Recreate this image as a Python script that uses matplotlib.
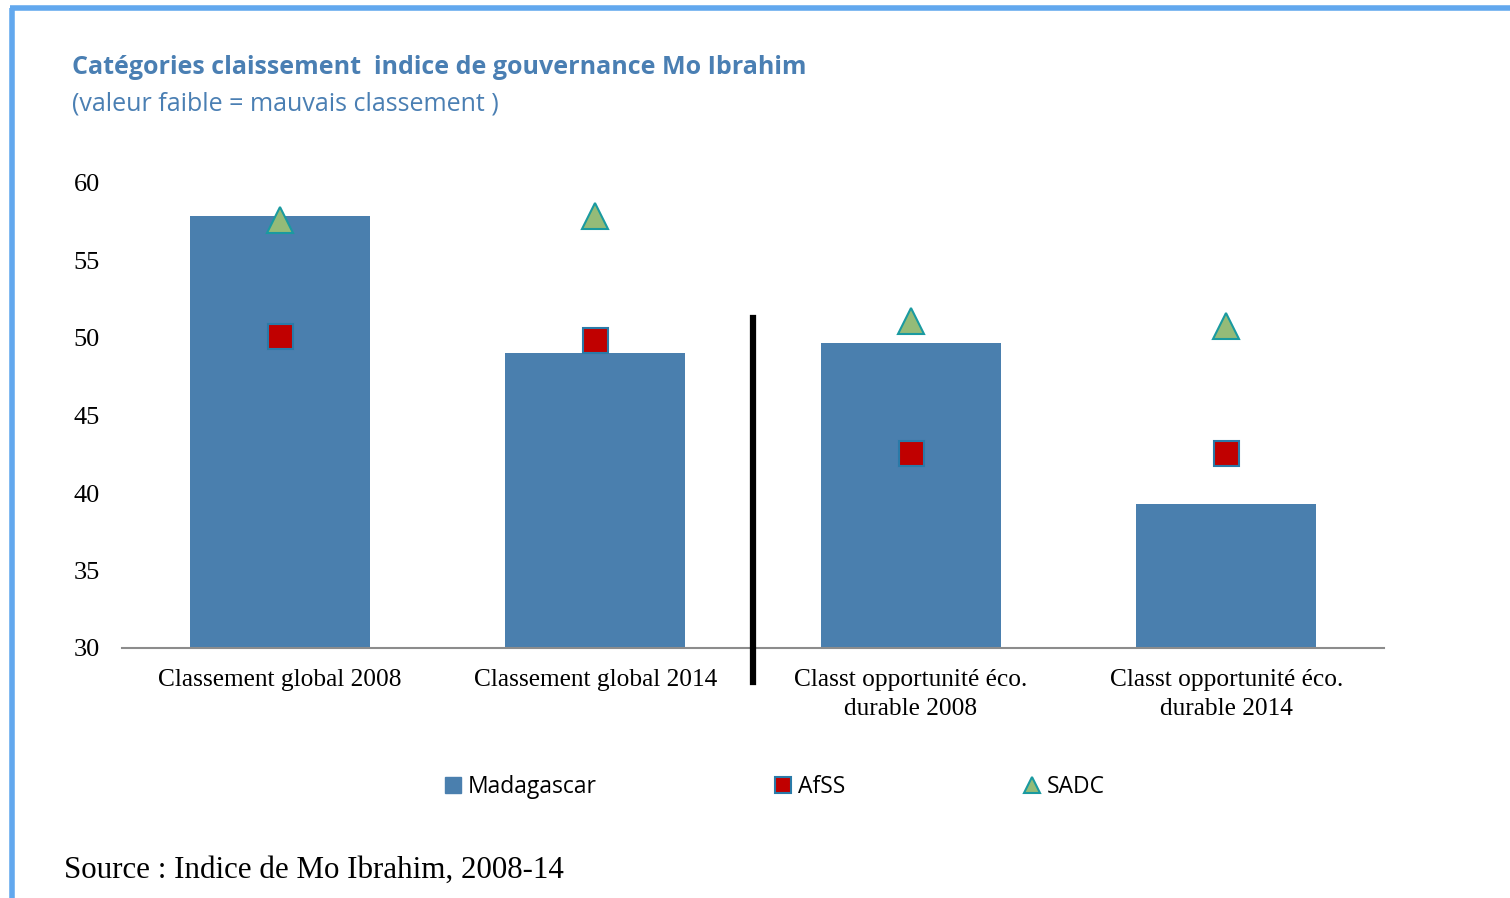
import numpy as np
import matplotlib
matplotlib.use("Agg")
import matplotlib.pyplot as plt
from matplotlib.lines import Line2D
from matplotlib.patches import Patch

# Data
categories = ["Classement global 2008", "Classement global 2014",
              "Classt opportunité éco.\ndurable 2008", "Classt opportunité éco.\ndurable 2014"]
madagascar = [57.9, 49.0, 49.7, 39.3]
afss = [50.1, 49.9, 42.6, 42.6]
sadc = [57.6, 57.9, 51.1, 50.8]
y_ticks = [30, 35, 40, 45, 50, 55, 60]

bar_color = "#4a7fae"
sq_color = "#c00000"
sq_edge = "#2a7aa8"
tri_color = "#94bb78"
tri_edge = "#1a9aa0"
title_color = "#4a7fb3"
border_color = "#62a8ee"
serif = "Liberation Serif"
sans = "Open Sans"

fig = plt.figure(figsize=(15.1, 8.98), dpi=100)
fig.patch.set_facecolor("white")
ax = fig.add_axes([122 / 1510, 250 / 898, 1262 / 1510, 465 / 898])

x = np.arange(len(categories))
ax.bar(x, madagascar, width=0.57, bottom=0, color=bar_color, zorder=2)
ax.plot(x, afss, linestyle="none", marker="s", markersize=18, markerfacecolor=sq_color,
        markeredgecolor=sq_edge, markeredgewidth=1.5, zorder=3)
ax.plot(x, sadc, linestyle="none", marker="^", markersize=19, markerfacecolor=tri_color,
        markeredgecolor=tri_edge, markeredgewidth=1.5, zorder=3)

# vertical separator between the two groups
ax.plot([1.5, 1.5], [51.3, 27.8], color="black", linewidth=4.5, clip_on=False, zorder=4)

ax.set_xlim(-0.5, 3.5)
ax.set_ylim(30, 60)
ax.set_yticks(y_ticks)
ax.set_yticklabels([str(t) for t in y_ticks], fontfamily=serif, fontsize=19)
ax.set_xticks(x)
ax.set_xticklabels(categories, fontfamily=serif, fontsize=18.3, linespacing=1.4)
ax.tick_params(axis="y", length=0, pad=16)
ax.tick_params(axis="x", length=0, pad=15)
for s in ["top", "right", "left"]:
    ax.spines[s].set_visible(False)
ax.spines["bottom"].set_color("#8c8c8c")
ax.spines["bottom"].set_linewidth(1.5)
ax.set_facecolor("none")

# titles
fig.text(72 / 1510, 1 - 68 / 898, "Catégories claissement  indice de gouvernance Mo Ibrahim",
         fontfamily=sans, fontweight="bold", fontsize=18, color=title_color, va="center")
fig.text(72 / 1510, 1 - 104 / 898, "(valeur faible = mauvais classement )",
         fontfamily=sans, fontsize=18, color=title_color, va="center")

# legend
handles = [
    Patch(facecolor=bar_color, edgecolor=bar_color),
    Line2D([], [], linestyle="none", marker="s", markersize=11, markerfacecolor=sq_color,
           markeredgecolor=sq_edge, markeredgewidth=1.5),
    Line2D([], [], linestyle="none", marker="^", markersize=11, markerfacecolor=tri_color,
           markeredgecolor=tri_edge, markeredgewidth=1.5),
]
fig.legend(handles, ["Madagascar", "AfSS", "SADC"], loc="center", ncol=3,
           bbox_to_anchor=(775 / 1510, 1 - 787 / 898), frameon=False,
           prop={"family": sans, "size": 16.5}, handlelength=0.7, handleheight=0.7,
           handletextpad=0.3, columnspacing=7.8)

# source
fig.text(64 / 1510, 1 - 870 / 898, "Source : Indice de Mo Ibrahim, 2008-14",
         fontfamily=serif, fontsize=22.3, color="black", va="center")

# blue frame on top and left
fig.add_artist(Line2D([12 / 1510, 12 / 1510], [0, 1 - 8 / 898], color=border_color,
                      linewidth=4, solid_capstyle="butt"))
fig.add_artist(Line2D([10 / 1510, 1], [1 - 8 / 898, 1 - 8 / 898], color=border_color,
                      linewidth=4, solid_capstyle="butt"))

fig.savefig("out.png", dpi=100)
